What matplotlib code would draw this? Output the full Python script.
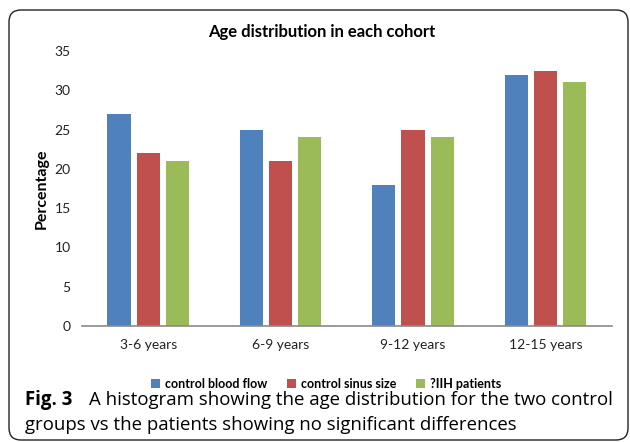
import numpy as np
import matplotlib.pyplot as plt
from matplotlib.patches import FancyBboxPatch

# age groups and percentage per cohort
age_groups = ['3-6 years', '6-9 years', '9-12 years', '12-15 years']
blood_flow = [27, 25, 18, 32]
sinus_size = [22, 21, 25, 32.5]
iih_patients = [21, 24, 24, 31]
series_names = ['control blood flow', 'control sinus size', '?IIH patients']
colors = ['#4F81BD', '#C0504D', '#9BBB59']

plt.rcParams['font.family'] = ['Lato', 'DejaVu Sans']

fig = plt.figure(figsize=(6.3, 4.42), dpi=100)
ax = fig.add_axes([0.130, 0.2624, 0.841, 0.6222])

x = np.arange(len(age_groups))
w = 0.175
step = 0.22
for i, (vals, name, c) in enumerate(zip([blood_flow, sinus_size, iih_patients], series_names, colors)):
    ax.bar(x + (i - 1) * step, vals, width=w, color=c, label=name)

ax.set_xlim(-0.5, 3.5)
ax.set_ylim(0, 35)
ax.set_yticks(range(0, 36, 5))
ax.set_xticks(x)
ax.set_xticklabels(age_groups, fontsize=10)
ax.tick_params(axis='y', length=0, pad=8, labelsize=10, colors='#222222')
ax.tick_params(axis='x', length=0, pad=9, colors='#222222')
for s in ['top', 'right', 'left']:
    ax.spines[s].set_visible(False)
ax.spines['bottom'].set_color('#8a8a8a')
ax.spines['bottom'].set_linewidth(1.2)

ax.set_ylabel('Percentage', fontsize=11.5, fontweight='bold', labelpad=4)
fig.text(0.51, 0.928, 'Age distribution in each cohort', ha='center', va='center',
         fontsize=12, fontweight='bold')

fig.legend(loc='center', bbox_to_anchor=(0.518, 0.132), ncol=3, frameon=False,
           handlelength=0.7, handleheight=0.7, handletextpad=0.4,
           columnspacing=1.6, prop={'weight': 'bold', 'size': 9})

# caption under the chart
cap = {'family': ['Open Sans', 'DejaVu Sans'], 'fontsize': 13.4}
fig.text(0.040, 0.095, 'Fig. 3', ha='left', va='center', fontweight='bold', **cap)
fig.text(0.141, 0.095, 'A histogram showing the age distribution for the two control',
         ha='left', va='center', **cap)
fig.text(0.040, 0.038, 'groups vs the patients showing no significant differences',
         ha='left', va='center', **cap)

# rounded frame around the figure panel (inch units keep the corners round)
frame = FancyBboxPatch((0.09, 0.02), 6.19, 4.30,
                       boxstyle='round,pad=0,rounding_size=0.12',
                       transform=fig.dpi_scale_trans, fill=False, edgecolor='#222222',
                       linewidth=1.0)
fig.patches.append(frame)

fig.savefig('out.png', dpi=100)
